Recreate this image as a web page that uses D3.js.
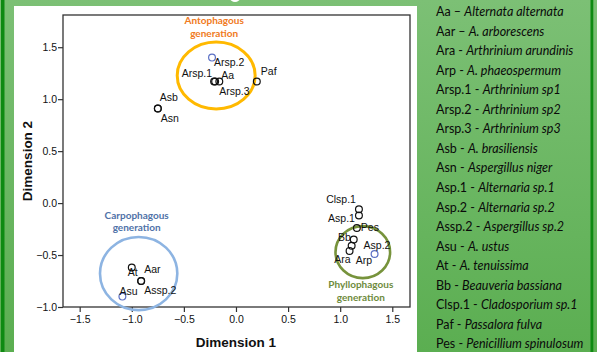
<!DOCTYPE html>
<html>
<head>
<meta charset="utf-8">
<script src="https://cdn.jsdelivr.net/npm/d3@7"></script>
<style>
  body { margin: 0; padding: 0; overflow: hidden; }
  svg { display: block; }
</style>
</head>
<body>
<div id="canvas"></div>
<script>
// species codes and their MDS coordinates
var names = ['Aa','Aar','Ara','Arp','Arsp.1','Arsp.2','Arsp.3','Asb','Asn','Asp.1','Asp.2','Assp.2','Asu','At','Bb','Clsp.1','Paf','Pes'];
var dim1  = [-0.16, -0.91, 1.09, 1.11, -0.21, -0.23, -0.20, -0.75, -0.75, 1.18, 1.33, -0.91, -1.09, -1.00, 1.13, 1.18, 0.20, 1.16];
var dim2  = [ 1.17, -0.75, -0.46, -0.41, 1.17, 1.40, 1.17, 0.91, 0.91, -0.12, -0.49, -0.75, -0.90, -0.62, -0.35, -0.06, 1.17, -0.24];
var bluePoints = ['Arsp.2','Asp.2','Asu'];

var xTicks = [-1.5, -1.0, -0.5, 0.0, 0.5, 1.0, 1.5];
var yTicks = [-1.0, -0.5, 0.0, 0.5, 1.0, 1.5];

// legend: code + full name
var legendCodes = ['Aa','Aar','Ara','Arp','Arsp.1','Arsp.2','Arsp.3','Asb','Asn','Asp.1','Asp.2','Assp.2','Asu','At','Bb','Clsp.1','Paf','Pes'];
var legendSeps  = [' \u2013 ',' \u2013 ',' - ',' - ',' - ',' - ',' - ',' - ',' - ',' - ',' - ',' - ',' - ',' - ',' - ',' - ',' - ',' - '];
var legendNames = ['Alternata alternata','A. arborescens','Arthrinium arundinis','A. phaeospermum','Arthrinium sp1','Arthrinium sp2','Arthrinium sp3','A. brasiliensis','Aspergillus niger','Alternaria sp.1','Alternaria sp.2','Aspergillus sp.2','A. ustus','A. tenuissima','Beauveria bassiana','Cladosporium sp.1','Passalora fulva','Penicillium spinulosum'];

// feeding groups drawn as ellipses (centre/radii in data units)
var groupTitles = ['Antophagous', 'Carpophagous', 'Phyllophagous'];
var groupCx = [-0.19, -0.934, 1.217];
var groupCy = [1.228, -0.678, -0.472];
var groupRx = [0.374, 0.371, 0.262];
var groupRy = [0.322, 0.352, 0.250];

// ---- layout / style (not data) ----
var width = 597, height = 352;
var groupColors = ['#FFB900', '#8DB4E2', '#77933C'];
var groupTextColors = ['#F07A22', '#4F72A8', '#6E8B3D'];

// where each point label sits relative to its point
var labelPos = {
  'Aa':     [2, -3, 'start'],
  'Arsp.1': [-2, -5, 'end'],
  'Arsp.3': [4, 13, 'start'],
  'Arsp.2': [2, 8, 'start'],
  'Paf':    [4, -7, 'start'],
  'Asb':    [2, -8, 'start'],
  'Asn':    [3, 13, 'start'],
  'Clsp.1': [-3, -6, 'end'],
  'Asp.1':  [-4, 6, 'end'],
  'Pes':    [4, 3, 'start'],
  'Bb':     [-3, 2, 'end'],
  'Asp.2':  [-11, -5, 'start'],
  'Ara':    [1, 12, 'end'],
  'Arp':    [4, 18, 'start'],
  'At':     [-4, 8, 'start'],
  'Aar':    [3, -8, 'start'],
  'Assp.2': [3, 13, 'start'],
  'Asu':    [-3, -2, 'start']
};

var svg = d3.select('#canvas').append('svg')
  .attr('width', width)
  .attr('height', height);

var defs = svg.append('defs');
var grad = defs.append('linearGradient').attr('id', 'bg').attr('x1', 0).attr('y1', 0).attr('x2', 0).attr('y2', 1);
grad.append('stop').attr('offset', '0%').attr('stop-color', '#7CC075');
grad.append('stop').attr('offset', '100%').attr('stop-color', '#5BAE51');

// green slide background
svg.append('rect').attr('x', 0).attr('y', 0).attr('width', width).attr('height', height).attr('fill', 'url(#bg)');
svg.append('rect').attr('x', 1).attr('y', 0).attr('width', 3.5).attr('height', height).attr('fill', '#0E8A12');
svg.append('rect').attr('x', 590.5).attr('y', 0).attr('width', 2.8).attr('height', height).attr('fill', '#0E8A12');

// white chart panel
svg.append('rect').attr('x', 14).attr('y', 6).attr('width', 403).attr('height', 350).attr('fill', '#ffffff');
svg.append('ellipse').attr('cx', 235).attr('cy', -2).attr('rx', 5).attr('ry', 4).attr('fill', '#ffffff');

var plot = { left: 63, top: 15, right: 410, bottom: 307 };

var x = d3.scaleLinear().domain([-1.66, 1.67]).range([plot.left, plot.right]);
var y = d3.scaleLinear().domain([-1.0, 1.81]).range([plot.bottom, plot.top]);

// axes
var xAxis = d3.axisBottom(x).tickValues(xTicks).tickFormat(d3.format('.1f')).tickSize(5).tickSizeOuter(0);
var yAxis = d3.axisLeft(y).tickValues(yTicks).tickFormat(d3.format('.1f')).tickSize(5).tickSizeOuter(0);

var gx = svg.append('g').attr('transform', 'translate(0,' + plot.bottom + ')').call(xAxis);
var gy = svg.append('g').attr('transform', 'translate(' + plot.left + ',0)').call(yAxis);
[gx, gy].forEach(function(g){
  g.select('.domain').remove();
  g.selectAll('line').attr('stroke', '#333').attr('stroke-width', 1.2);
  g.selectAll('text').attr('fill', '#111').style('font-family', 'Liberation Sans, Arial, sans-serif').style('font-size', '10.5px');
});
gx.selectAll('text').attr('dy', '0.35em').attr('y', 12);
gy.selectAll('text').attr('x', -6);

// frame
svg.append('rect')
  .attr('x', plot.left).attr('y', plot.top)
  .attr('width', plot.right - plot.left).attr('height', plot.bottom - plot.top)
  .attr('fill', 'none').attr('stroke', '#333').attr('stroke-width', 1.3);

// axis titles
svg.append('text').attr('x', x(0)).attr('y', 347).attr('text-anchor', 'middle')
  .style('font-family', 'Liberation Sans, Arial, sans-serif').style('font-size', '13.5px').style('font-weight', 'bold')
  .attr('fill', '#111').text('Dimension 1');
svg.append('text').attr('transform', 'translate(32,' + ((plot.top + plot.bottom) / 2) + ') rotate(-90)')
  .attr('text-anchor', 'middle')
  .style('font-family', 'Liberation Sans, Arial, sans-serif').style('font-size', '13.5px').style('font-weight', 'bold')
  .attr('fill', '#111').text('Dimension 2');

// group ellipses + titles
groupTitles.forEach(function(t, i){
  var cx = x(groupCx[i]), cy = y(groupCy[i]);
  var rx = x(groupRx[i]) - x(0), ry = y(0) - y(groupRy[i]);
  svg.append('ellipse').attr('cx', cx).attr('cy', cy).attr('rx', rx).attr('ry', ry)
    .attr('fill', 'none').attr('stroke', groupColors[i]).attr('stroke-width', i == 0 ? 3 : 2.6);
  var base = i == 2 ? cy + ry + 10 : cy - ry - 18;
  var lab = svg.append('text').attr('text-anchor', 'middle')
    .style('font-family', 'Lato, Open Sans, sans-serif').style('font-size', '10px').style('font-weight', 'bold')
    .attr('fill', groupTextColors[i]);
  lab.append('tspan').attr('x', cx - 2).attr('y', base).text(t);
  lab.append('tspan').attr('x', cx - 2).attr('y', base + 12.5).text('generation');
});

// points
var points = names.map(function(n, i){ return { name: n, d1: dim1[i], d2: dim2[i] }; });

svg.append('g').selectAll('circle').data(points).enter().append('circle')
  .attr('cx', function(d){ return x(d.d1); })
  .attr('cy', function(d){ return y(d.d2); })
  .attr('r', 3.4)
  .attr('fill', 'none')
  .attr('stroke', function(d){ return bluePoints.indexOf(d.name) >= 0 ? '#5A6FC4' : '#111'; })
  .attr('stroke-width', 1.2);

svg.append('g').selectAll('text').data(points).enter().append('text')
  .attr('x', function(d){ return x(d.d1) + labelPos[d.name][0]; })
  .attr('y', function(d){ return y(d.d2) + labelPos[d.name][1]; })
  .attr('text-anchor', function(d){ return labelPos[d.name][2]; })
  .style('font-family', 'Liberation Sans, Arial, sans-serif').style('font-size', '10.5px')
  .attr('fill', '#111')
  .text(function(d){ return d.name; });

// legend on the right
var legend = svg.append('g');
legendCodes.forEach(function(c, i){
  var t = legend.append('text').attr('x', 436).attr('y', 16 + i * 19.55)
    .style('font-family', 'Lato, Open Sans, sans-serif').style('font-size', '12.5px')
    .attr('fill', '#0a0a0a');
  t.append('tspan').text(c + legendSeps[i]);
  t.append('tspan').style('font-style', 'italic').text(legendNames[i]);
});
</script>
</body>
</html>
